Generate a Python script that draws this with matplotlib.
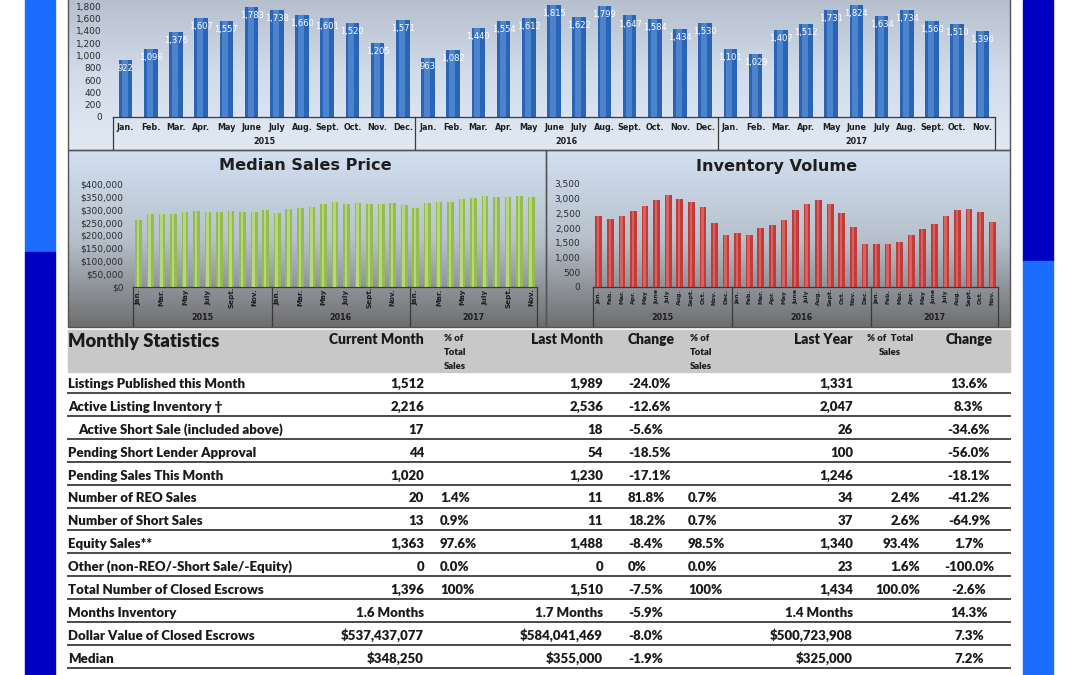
import numpy as np
import matplotlib
matplotlib.use("Agg")
import matplotlib.pyplot as plt
from matplotlib import transforms
from matplotlib.colors import LinearSegmentedColormap
from matplotlib.patches import Rectangle

W, H = 1080, 675

# ---- chart data ----
months = ["Jan.", "Feb.", "Mar.", "Apr.", "May", "June", "July", "Aug.", "Sept.", "Oct.", "Nov.", "Dec."]
years = ["2015", "2016", "2017"]
month_labels = months * 2 + months[:11]

closed_sales = [922, 1098, 1376, 1607, 1557, 1783, 1738, 1660, 1601, 1520, 1205, 1571,
                963, 1082, 1440, 1554, 1612, 1815, 1622, 1799, 1647, 1584, 1434, 1530,
                1101, 1029, 1407, 1512, 1731, 1824, 1634, 1734, 1560, 1510, 1396]

median_price = [260000, 284000, 283000, 282000, 293000, 297000, 293000, 292000, 297000, 292000, 292000, 299000,
                286000, 302000, 306000, 310000, 321000, 332000, 324000, 325000, 321000, 323000, 325000, 319000,
                306000, 328000, 332000, 332000, 343000, 347000, 355000, 348000, 348000, 355000, 348250]

inventory = [2400, 2310, 2400, 2570, 2760, 2965, 3135, 3000, 2885, 2705, 2170, 1750,
             1830, 1750, 1990, 2115, 2260, 2600, 2830, 2940, 2830, 2510, 2047, 1455,
             1455, 1455, 1545, 1775, 1965, 2150, 2420, 2625, 2650, 2536, 2216]

# ---- table data ----
row_labels = ["Listings Published this Month", "Active Listing Inventory \u2020",
              "  Active Short Sale (included above)", "Pending Short Lender Approval",
              "Pending Sales This Month", "Number of REO Sales", "Number of Short Sales",
              "Equity Sales**", "Other (non-REO/-Short Sale/-Equity)",
              "Total Number of Closed Escrows", "Months Inventory",
              "Dollar Value of Closed Escrows", "Median"]
cur_month = ["1,512", "2,216", "17", "44", "1,020", "20", "13", "1,363", "0", "1,396",
             "1.6 Months", "$537,437,077", "$348,250"]
cur_pct = ["", "", "", "", "", "1.4%", "0.9%", "97.6%", "0.0%", "100%", "", "", ""]
last_month = ["1,989", "2,536", "18", "54", "1,230", "11", "11", "1,488", "0", "1,510",
              "1.7 Months", "$584,041,469", "$355,000"]
mom_change = ["-24.0%", "-12.6%", "-5.6%", "-18.5%", "-17.1%", "81.8%", "18.2%", "-8.4%",
              "0%", "-7.5%", "-5.9%", "-8.0%", "-1.9%"]
last_pct = ["", "", "", "", "", "0.7%", "0.7%", "98.5%", "0.0%", "100%", "", "", ""]
last_year = ["1,331", "2,047", "26", "100", "1,246", "34", "37", "1,340", "23", "1,434",
             "1.4 Months", "$500,723,908", "$325,000"]
ly_pct = ["", "", "", "", "", "2.4%", "2.6%", "93.4%", "1.6%", "100.0%", "", "", ""]
yoy_change = ["13.6%", "8.3%", "-34.6%", "-56.0%", "-18.1%", "-41.2%", "-64.9%", "1.7%",
              "-100.0%", "-2.6%", "14.3%", "7.3%", "7.2%"]

TFONT = ["Lato", "DejaVu Sans"]
TWEIGHT = "heavy"


def px(x0, y0, x1, y1):
    # pixel box (top-left origin) -> figure fraction rect
    return [x0 / W, 1 - y1 / H, (x1 - x0) / W, (y1 - y0) / H]


def vgrad(ax, x0, x1, y0, y1, colors):
    cmap = LinearSegmentedColormap.from_list("g", colors)
    g = np.linspace(0, 1, 256).reshape(-1, 1)
    ax.imshow(g, cmap=cmap, extent=(x0, x1, y1, y0), aspect="auto", zorder=0)


fig = plt.figure(figsize=(W / 100, H / 100), dpi=100)
bg = fig.add_axes([0, 0, 1, 1])
bg.axis("off")

# side bands
bg.add_patch(Rectangle((25, 0), 30, 252, color="#1a6dff", zorder=1))
bg.add_patch(Rectangle((25, 252), 30, 423, color="#0000c4", zorder=1))
bg.add_patch(Rectangle((1023, 0), 30, 261, color="#0000c4", zorder=1))
bg.add_patch(Rectangle((1023, 261), 30, 414, color="#1a6dff", zorder=1))

# panel backgrounds
vgrad(bg, 68, 1010, 0, 150, ["#b5bfcd", "#d2dcea", "#e1e9f3"])
vgrad(bg, 68, 546, 150, 327, ["#d3e0f1", "#b7c1cd", "#6e6e6e"])
vgrad(bg, 546, 1010, 150, 327, ["#d3e0f1", "#b7c1cd", "#6e6e6e"])
for (x0, y0, x1, y1) in [(68, -2, 1010, 150), (68, 150, 546, 327), (546, 150, 1010, 327)]:
    bg.add_patch(Rectangle((x0, y0), x1 - x0, y1 - y0, fill=False, ec="#555555", lw=1, zorder=2))

bg.set_xlim(0, W)
bg.set_ylim(H, 0)

n = len(closed_sales)
x = np.arange(n)


def category_axis(ax, top, bottom, year_y, month_y, step, rotate, msize):
    trans = transforms.blended_transform_factory(ax.transData, bg.transData)
    for s in [-0.5, 11.5, 23.5, n - 0.5]:
        ax.plot([s, s], [top, bottom], transform=trans, color="#3a3a3a", lw=0.9, clip_on=False)
    for i in range(0, n, step):
        ax.text(i, month_y, month_labels[i], transform=trans, ha="center", va="center",
                rotation=90 if rotate else 0, fontsize=msize, color="#1e1e1e",
                fontweight="bold", clip_on=False)
    for k, yr in enumerate(years):
        c = (k * 12 + min(k * 12 + 11, n - 1)) / 2
        ax.text(c, year_y, yr, transform=trans, ha="center", va="center",
                fontsize=5.8, color="#1e1e1e", fontweight="bold", clip_on=False)


def style(ax):
    ax.set_facecolor("none")
    for s in ["top", "right", "left"]:
        ax.spines[s].set_visible(False)
    ax.spines["bottom"].set_color("#3a3a3a")
    ax.spines["bottom"].set_linewidth(0.9)
    ax.set_xticks([])
    ax.tick_params(axis="y", length=0, labelsize=6.5, labelcolor="#2a2a2a")
    ax.set_xlim(-0.5, n - 0.5)


# ---- top chart: closed escrows ----
ax1 = fig.add_axes(px(113, -6.3, 995, 117))
style(ax1)
ax1.bar(x, closed_sales, width=0.54, color="#2a64b4", zorder=2)
ax1.bar(x - 0.04, closed_sales, width=0.24, color="#78a8ea", alpha=0.45, zorder=3)
for i, v in enumerate(closed_sales):
    ax1.text(i, v - 140, f"{v:,}", ha="center", va="center", color="white", fontsize=6, zorder=4)
ax1.set_ylim(0, 2000)
ax1.set_yticks(range(0, 1801, 200))
ax1.set_yticklabels([f"{t:,}" for t in range(0, 1801, 200)])
ax1.tick_params(axis="y", pad=8)
category_axis(ax1, 117, 149, 142, 128, 1, False, 5.8)

# ---- median sales price ----
ax2 = fig.add_axes(px(133, 184, 537, 287))
style(ax2)
ax2.bar(x, median_price, width=0.58, color="#94bc50", zorder=2)
ax2.bar(x - 0.05, median_price, width=0.22, color="#d0e99e", alpha=0.6, zorder=3)
ax2.set_ylim(0, 400000)
ax2.set_yticks(range(0, 400001, 50000))
ax2.set_yticklabels(["$0"] + [f"${t:,}" for t in range(50000, 400001, 50000)])
ax2.tick_params(axis="y", pad=7)
category_axis(ax2, 287, 326, 318, 297, 2, True, 5.2)
bg.text(305, 166, "Median Sales Price", ha="center", va="center", fontsize=11.6,
        fontweight="bold", color="#1e1e1e")

# ---- inventory volume ----
ax3 = fig.add_axes(px(593, 184, 998, 287))
style(ax3)
ax3.bar(x, inventory, width=0.58, color="#c23b38", zorder=2)
ax3.bar(x - 0.05, inventory, width=0.22, color="#ea8c88", alpha=0.5, zorder=3)
ax3.set_ylim(0, 3500)
ax3.set_yticks(range(0, 3501, 500))
ax3.set_yticklabels([f"{t:,}" for t in range(0, 3501, 500)])
ax3.tick_params(axis="y", pad=9)
category_axis(ax3, 287, 326, 318, 297, 1, True, 4.4)
bg.text(777, 166, "Inventory Volume", ha="center", va="center", fontsize=11.6,
        fontweight="bold", color="#1e1e1e")

# ---- monthly statistics table ----
bg.add_patch(Rectangle((68, 330), 942, 42, color="#c8c8c8", zorder=1))
hkw = dict(fontweight=TWEIGHT, color="#1a1a1a", family=TFONT, fontsize=10, va="baseline")
skw = dict(fontweight=TWEIGHT, color="#1a1a1a", family=TFONT, fontsize=6.8, va="baseline")
bg.text(68, 347, "Monthly Statistics", fontsize=13.2, fontweight=TWEIGHT, color="#1a1a1a",
        family=TFONT, va="baseline")
bg.text(424, 344, "Current Month", ha="right", **hkw)
for j, t in enumerate(["% of", "Total", "Sales"]):
    bg.text(444, 341 + j * 14, t, ha="left", **skw)
bg.text(603, 344, "Last Month", ha="right", **hkw)
bg.text(628, 344, "Change", ha="left", **hkw)
for j, t in enumerate(["% of", "Total", "Sales"]):
    bg.text(690, 341 + j * 14, t, ha="left", **skw)
bg.text(853, 344, "Last Year", ha="right", **hkw)
bg.text(890, 341, "% of  Total", ha="center", **skw)
bg.text(890, 355, "Sales", ha="center", **skw)
bg.text(969, 344, "Change", ha="center", **hkw)

ckw = dict(fontweight=TWEIGHT, color="#1a1a1a", family=TFONT, fontsize=9.5, va="baseline")
for r in range(len(row_labels)):
    ly = 393 + r * 22.9
    ty = ly - 5
    bg.plot([68, 1010], [ly, ly], color="#4a4a4a", lw=1.4, zorder=2)
    lbl = row_labels[r]
    if lbl.startswith("  "):
        bg.text(78, ty, lbl.strip(), ha="left", **ckw)
    else:
        bg.text(68, ty, lbl, ha="left", **ckw)
    bg.text(424, ty, cur_month[r], ha="right", **ckw)
    bg.text(440, ty, cur_pct[r], ha="left", **ckw)
    bg.text(603, ty, last_month[r], ha="right", **ckw)
    bg.text(628, ty, mom_change[r], ha="left", **ckw)
    bg.text(688, ty, last_pct[r], ha="left", **ckw)
    bg.text(853, ty, last_year[r], ha="right", **ckw)
    bg.text(920, ty, ly_pct[r], ha="right", **ckw)
    bg.text(969, ty, yoy_change[r], ha="center", **ckw)

bg.set_xlim(0, W)
bg.set_ylim(H, 0)

fig.savefig("out.png", dpi=100)
